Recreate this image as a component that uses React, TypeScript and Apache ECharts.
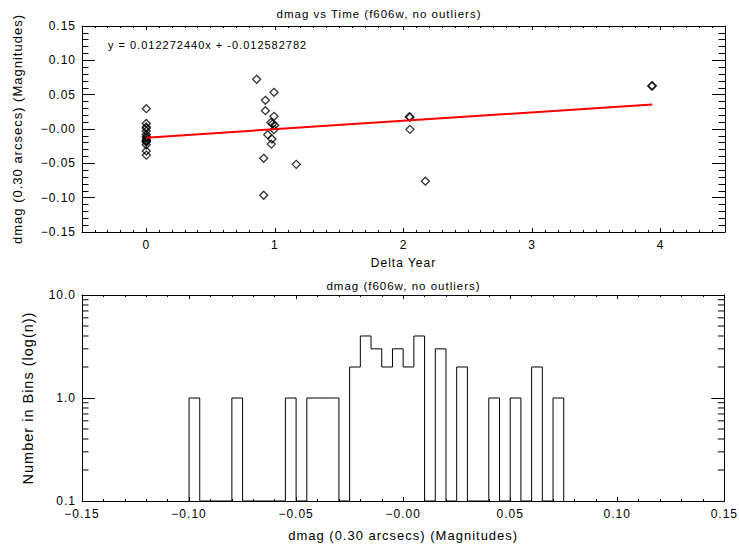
import React, { useEffect, useRef } from "react";
import * as echarts from "echarts";

// ---- Scatter data (top panel) ----
const deltaYear = [
  0, 0, 0, 0, 0, 0, 0, 0, 0, 0, 0, 0, 0, 0, 0,
  0.858, 0.993, 0.926, 0.926, 0.993, 0.969, 0.983, 0.998, 0.993, 0.944, 0.977, 0.972, 0.913, 0.913, 1.166,
  2.045, 2.05, 2.05, 2.17,
  3.93, 3.935,
];
const dmag = [
  0.0296, 0.008, 0.003, 0.001, -0.003, -0.008, -0.011, -0.013, -0.016, -0.017, -0.018, -0.019, -0.023, -0.032, -0.038,
  0.0724, 0.0534, 0.0418, 0.0267, 0.0185, 0.0095, 0.0075, 0.0055, -0.001, -0.0083, -0.0146, -0.022, -0.0427, -0.0965, -0.0515,
  0.018, 0.017, -0.0005, -0.076,
  0.0625, 0.063,
];
const fitSlope = 0.01227244;
const fitIntercept = -0.012582782;
const fitLabel = "y = 0.012272440x + -0.012582782";

// ---- Histogram data (bottom panel) ----
const binStart = -0.1;
const binWidth = 0.005;
const histCounts = [
  1, 0, 0, 0, 1, 0, 0, 0, 0, 1, 0, 1, 1, 1, 0, 2, 4, 3, 2, 3, 2, 4, 0, 3, 0, 2, 0, 0, 1, 0, 1, 0, 2, 0, 1,
];

// ---- Tick values ----
const yearTicks = [0, 1, 2, 3, 4];
const logMinorTicks = [0.2, 0.3, 0.4, 0.5, 0.6, 0.7, 0.8, 0.9, 2, 3, 4, 5, 6, 7, 8, 9];

const FONT = "Liberation Sans";
const BLACK = "#000";

const fmtSigned2 = (v: number) => {
  const neg = v < 0 || Math.abs(v) < 1e-9;
  return (neg ? "\u2212" : "") + Math.abs(v).toFixed(2);
};

export default function App() {
  const ref = useRef<HTMLDivElement>(null);

  useEffect(() => {
    if (!ref.current) return;
    const chart = echarts.init(ref.current, undefined, { renderer: "svg" });

    const scatterData = deltaYear.map((x, i) => [x, dmag[i]]);
    const xMinData = Math.min(...deltaYear);
    const xMaxData = Math.max(...deltaYear);
    const fitData = [
      [xMinData, fitSlope * xMinData + fitIntercept],
      [xMaxData, fitSlope * xMaxData + fitIntercept],
    ];

    const edge = (k: number) => +(binStart + k * binWidth).toFixed(4);
    const histLine: number[][] = [[edge(0), 0.1]];
    histCounts.forEach((c, k) => {
      const v = c > 0 ? c : 0.1;
      histLine.push([edge(k), v], [edge(k + 1), v]);
    });
    histLine.push([edge(histCounts.length), 0.1]);

    const axisLine = { show: true, onZero: false, lineStyle: { color: BLACK, width: 1 } };
    const noLine = { show: false, onZero: false };
    const labelStyle = { color: BLACK, fontFamily: FONT, fontSize: 12 };
    const nameStyle = (size: number) => ({ color: BLACK, fontFamily: FONT, fontSize: size });

    const g0x = {
      gridIndex: 0,
      type: "value",
      min: -0.5,
      max: 4.5,
      splitLine: { show: false },
    };
    const g1x = {
      gridIndex: 1,
      type: "value",
      min: -0.15,
      max: 0.15,
      interval: 0.05,
      splitLine: { show: false },
      axisLine,
      axisTick: { inside: true, length: 4, lineStyle: { color: BLACK } },
      minorTick: { show: true, splitNumber: 5, length: 2, lineStyle: { color: BLACK } },
    };
    const g0y = {
      gridIndex: 0,
      type: "value",
      min: -0.15,
      max: 0.15,
      interval: 0.05,
      splitLine: { show: false },
      axisLine,
      axisTick: { inside: true, length: 13, lineStyle: { color: BLACK } },
      minorTick: { show: true, splitNumber: 5, length: 6.5, lineStyle: { color: BLACK } },
    };
    const g1y = {
      gridIndex: 1,
      type: "log",
      logBase: 10,
      min: 0.1,
      max: 10,
      splitLine: { show: false },
      axisLine,
      axisTick: { inside: true, length: 13, lineStyle: { color: BLACK } },
    };

    const option: any = {
      animation: false,
      backgroundColor: "#fff",
      textStyle: { fontFamily: FONT },
      grid: [
        { left: 82, top: 26, width: 643, height: 206 },
        { left: 82, top: 295, width: 643, height: 206 },
      ],
      xAxis: [
        {
          ...g0x,
          position: "bottom",
          axisLine,
          axisTick: { inside: true, length: 4, customValues: yearTicks, lineStyle: { color: BLACK } },
          axisLabel: { ...labelStyle, margin: 7, customValues: yearTicks, formatter: (v: number) => String(v) },
          name: "Delta Year",
          nameLocation: "middle",
          nameGap: 25,
          nameTextStyle: nameStyle(12),
        },
        {
          ...g0x,
          position: "bottom",
          interval: 0.1,
          axisLine: noLine,
          axisTick: { inside: true, length: 2, lineStyle: { color: BLACK } },
          axisLabel: { show: false },
        },
        {
          ...g0x,
          position: "top",
          axisLine,
          axisTick: { inside: true, length: 4, customValues: yearTicks, lineStyle: { color: BLACK } },
          axisLabel: { show: false },
        },
        {
          ...g0x,
          position: "top",
          interval: 0.1,
          axisLine: noLine,
          axisTick: { inside: true, length: 2, lineStyle: { color: BLACK } },
          axisLabel: { show: false },
        },
        {
          ...g1x,
          position: "bottom",
          axisLabel: { ...labelStyle, margin: 7, formatter: fmtSigned2 },
          name: "dmag (0.30 arcsecs) (Magnitudes)",
          nameLocation: "middle",
          nameGap: 28,
          nameTextStyle: nameStyle(13),
        },
        {
          ...g1x,
          position: "top",
          axisLabel: { show: false },
        },
      ],
      yAxis: [
        {
          ...g0y,
          position: "left",
          axisLabel: { ...labelStyle, margin: 6, formatter: fmtSigned2 },
          name: "dmag (0.30 arcsecs) (Magnitudes)",
          nameLocation: "middle",
          nameGap: 58,
          nameTextStyle: nameStyle(13),
        },
        { ...g0y, position: "right", axisLabel: { show: false } },
        {
          ...g1y,
          position: "left",
          axisLabel: { ...labelStyle, margin: 6, formatter: (v: number) => v.toFixed(1) },
          name: "Number in Bins (log(n))",
          nameLocation: "middle",
          nameGap: 47,
          nameTextStyle: nameStyle(14.5),
        },
        { ...g1y, position: "right", axisLabel: { show: false } },
      ],
      graphic: [
        {
          type: "text",
          x: 379,
          y: 14,
          style: { text: "dmag vs Time (f606w, no outliers)", fill: BLACK, font: `11.5px "${FONT}"`, align: "center", verticalAlign: "middle" },
        },
        {
          type: "text",
          x: 403.5,
          y: 286,
          style: { text: "dmag (f606w, no outliers)", fill: BLACK, font: `11.5px "${FONT}"`, align: "center", verticalAlign: "middle" },
        },
        {
          type: "text",
          x: 108,
          y: 45,
          style: { text: fitLabel, fill: BLACK, font: `11px "${FONT}"`, align: "left", verticalAlign: "middle" },
        },
      ],
      series: [
        {
          type: "scatter",
          xAxisIndex: 0,
          yAxisIndex: 0,
          data: scatterData,
          symbol: "diamond",
          symbolSize: 8,
          itemStyle: { color: "transparent", borderColor: BLACK, borderWidth: 1.3 },
          z: 3,
        },
        {
          type: "line",
          xAxisIndex: 0,
          yAxisIndex: 0,
          data: fitData,
          showSymbol: false,
          lineStyle: { color: "#ff0000", width: 2 },
          z: 4,
        },
        {
          type: "line",
          xAxisIndex: 4,
          yAxisIndex: 2,
          data: histLine,
          showSymbol: false,
          lineStyle: { color: BLACK, width: 1 },
          z: 3,
        },
        {
          type: "custom",
          xAxisIndex: 4,
          yAxisIndex: 2,
          data: logMinorTicks.map((v) => [-0.15, v]),
          clip: false,
          renderItem: (_p: any, api: any) => {
            const v = api.value(1);
            const l = api.coord([-0.15, v]);
            const r = api.coord([0.15, v]);
            return {
              type: "group",
              children: [
                { type: "line", shape: { x1: l[0], y1: l[1], x2: l[0] + 6.5, y2: l[1] }, style: { stroke: BLACK, lineWidth: 1 } },
                { type: "line", shape: { x1: r[0] - 6.5, y1: r[1], x2: r[0], y2: r[1] }, style: { stroke: BLACK, lineWidth: 1 } },
              ],
            };
          },
        },
      ],
    };

    chart.setOption(option);
    return () => chart.dispose();
  }, []);

  return (
    <div
      ref={ref}
      style={{ position: "absolute", left: 0, top: 0, width: 739, height: 550, background: "#fff", letterSpacing: "1px" }}
    />
  );
}
